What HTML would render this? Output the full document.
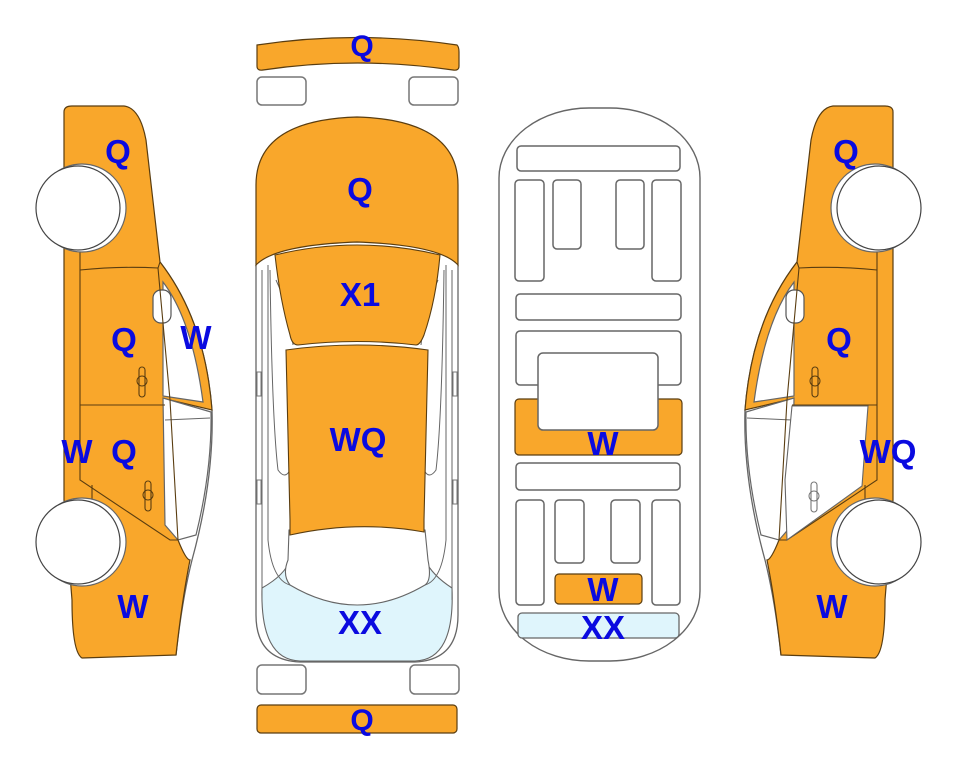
<!DOCTYPE html>
<html><head><meta charset="utf-8"><style>
html,body{margin:0;padding:0;background:#fff;}
svg{display:block;}
text{font-family:"Liberation Sans",Arial,sans-serif;font-weight:bold;fill:#0a0ae0;text-anchor:middle;}
</style></head><body>
<svg width="963" height="768" viewBox="0 0 963 768" xmlns="http://www.w3.org/2000/svg">
<defs>
<g id="side">
  <path d="M160,262 Q205,320 212,410 Q214,480 192,560 Q182,600 176,655" fill="none" stroke="#666" stroke-width="1.3"/>
  <path d="M64,112 Q64,106 72,106 L124,106 Q140,108 146,140 L160,262 Q205,320 212,410 L170,400 L178,540 Q186,560 190,560 Q182,600 176,655 L82,658 Q72,652 72,600 L64,500 Z" fill="#f9a72b" stroke="#5a3d10" stroke-width="1.2"/>
  <path d="M163,282 Q192,320 203,402 L163,396 Z" fill="#fff" stroke="#666" stroke-width="1.2"/>
  <path d="M163,398 L211,412 Q212,470 196,535 L178,540 L165,525 Z" fill="#fff" stroke="#666" stroke-width="1.2"/>
  <path d="M165,420 L210,418" stroke="#666" stroke-width="1" fill="none"/>
  <rect x="153" y="290" width="18" height="33" rx="8" fill="#fff" stroke="#555" stroke-width="1.2"/>
  <path d="M80,270 Q120,266 158,268 L160,262" fill="none" stroke="#5a3d10" stroke-width="1.1"/>
  <path d="M158,268 L170,400 L178,540" fill="none" stroke="#5a3d10" stroke-width="1.1"/>
  <path d="M80,405 L165,405" fill="none" stroke="#5a3d10" stroke-width="1.1"/>
  <path d="M80,250 L80,480 L170,540 L178,540" fill="none" stroke="#5a3d10" stroke-width="1.1"/>
  <path d="M92,485 L92,505" fill="none" stroke="#5a3d10" stroke-width="1.1"/>
  <rect x="139" y="367" width="6" height="30" rx="3" fill="none" stroke="#5a3d10" stroke-width="1.1"/>
  <circle cx="142" cy="381" r="5" fill="none" stroke="#5a3d10" stroke-width="1"/>
  <rect x="145" y="481" width="6" height="30" rx="3" fill="none" stroke="#5a3d10" stroke-width="1.1"/>
  <circle cx="148" cy="495" r="5" fill="none" stroke="#5a3d10" stroke-width="1"/>
  <circle cx="82" cy="208" r="44" fill="#fff" stroke="#666" stroke-width="1.2"/>
  <circle cx="78" cy="208" r="42" fill="#fff" stroke="#444" stroke-width="1.2"/>
  <circle cx="82" cy="542" r="44" fill="#fff" stroke="#666" stroke-width="1.2"/>
  <circle cx="78" cy="542" r="42" fill="#fff" stroke="#444" stroke-width="1.2"/>
</g>
</defs>

<use href="#side"/>
<text x="118" y="163" font-size="33">Q</text>
<text x="124" y="351" font-size="33">Q</text>
<text x="196" y="349" font-size="33">W</text>
<text x="77" y="463" font-size="33">W</text>
<text x="124" y="463" font-size="33">Q</text>
<text x="133" y="618" font-size="33">W</text>

<g transform="translate(957,0) scale(-1,1)">
  <use href="#side"/>
  <path d="M89,406 L165,406 L172,480 L170,540 L95,486 Z" fill="#fff" stroke="#666" stroke-width="1.1"/>
  <rect x="140" y="482" width="6" height="30" rx="3" fill="#fff" stroke="#777" stroke-width="1.1"/>
  <circle cx="143" cy="496" r="5" fill="none" stroke="#777" stroke-width="1"/>
</g>
<text x="846" y="163" font-size="33">Q</text>
<text x="839" y="351" font-size="33">Q</text>
<text x="888" y="463" font-size="33">WQ</text>
<text x="832" y="618" font-size="33">W</text>

<path d="M257,45 Q357,30 457,45 Q459,47 459,52 L459,66 Q459,71 453,70 Q357,56 263,70 Q257,71 257,66 L257,52 Q257,47 257,45 Z" fill="#f9a72b" stroke="#5a3d10" stroke-width="1.2"/>
<text x="362" y="56" font-size="30">Q</text>
<rect x="257" y="77" width="49" height="28" rx="5" fill="#fff" stroke="#777" stroke-width="1.5"/>
<rect x="409" y="77" width="49" height="28" rx="5" fill="#fff" stroke="#777" stroke-width="1.5"/>

<path d="M256,265 L256,615 Q256,660 300,662 L415,662 Q458,660 458,615 L458,265" fill="#fff" stroke="#666" stroke-width="1.3"/>
<path d="M262,588 Q285,575 290,560 Q357,625 425,560 Q432,575 452,588 Q455,660 415,661 L300,661 Q260,660 262,588 Z" fill="#dff5fc" stroke="#666" stroke-width="1.1"/>
<path d="M262,270 L262,600" fill="none" stroke="#666" stroke-width="1"/>
<path d="M452,270 L452,600" fill="none" stroke="#666" stroke-width="1"/>
<path d="M268,265 Q268,400 268,540 Q272,580 290,585" fill="none" stroke="#666" stroke-width="1"/>
<path d="M446,265 Q446,400 446,540 Q442,580 425,585" fill="none" stroke="#666" stroke-width="1"/>
<path d="M270,270 Q272,420 278,470 Q285,480 290,470" fill="none" stroke="#666" stroke-width="1"/>
<path d="M444,270 Q442,420 436,470 Q429,480 424,470" fill="none" stroke="#666" stroke-width="1"/>
<path d="M276,280 Q290,310 293,345" fill="none" stroke="#666" stroke-width="1"/>
<path d="M438,280 Q424,310 421,345" fill="none" stroke="#666" stroke-width="1"/>
<rect x="257" y="372" width="4" height="24" fill="#fff" stroke="#777" stroke-width="1"/>
<rect x="453" y="372" width="4" height="24" fill="#fff" stroke="#777" stroke-width="1"/>
<rect x="257" y="480" width="4" height="24" fill="#fff" stroke="#777" stroke-width="1"/>
<rect x="453" y="480" width="4" height="24" fill="#fff" stroke="#777" stroke-width="1"/>
<path d="M289,530 Q357,520 425,530 L428,560 Q432,580 425,585 Q357,625 290,585 Q282,575 288,560 Z" fill="#fff" stroke="#666" stroke-width="1.1"/>
<path d="M256,265 L256,185 Q256,120 357,117 Q458,120 458,185 L458,265 Q440,245 357,242 Q275,245 256,265 Z" fill="#f9a72b" stroke="#5a3d10" stroke-width="1.2"/>
<path d="M275,255 Q357,235 440,255 Q436,300 424,335 Q420,345 416,345 Q357,338 298,345 Q292,345 290,335 Q280,300 275,255 Z" fill="#f9a72b" stroke="#5a3d10" stroke-width="1.1"/>
<path d="M286,350 Q357,340 428,350 L424,520 L424,532 Q357,520 290,535 L290,520 Z" fill="#f9a72b" stroke="#5a3d10" stroke-width="1.1"/>
<text x="360" y="201" font-size="33">Q</text>
<text x="360" y="306" font-size="33">X1</text>
<text x="358" y="451" font-size="33">WQ</text>
<text x="360" y="634" font-size="33">XX</text>

<rect x="257" y="665" width="49" height="29" rx="5" fill="#fff" stroke="#777" stroke-width="1.5"/>
<rect x="410" y="665" width="49" height="29" rx="5" fill="#fff" stroke="#777" stroke-width="1.5"/>
<rect x="257" y="705" width="200" height="28" rx="4" fill="#f9a72b" stroke="#5a3d10" stroke-width="1.2"/>
<text x="362" y="730" font-size="30">Q</text>

<rect x="499" y="108" width="201" height="553" rx="90" ry="70" fill="#fff" stroke="#666" stroke-width="1.4"/>
<g fill="#fff" stroke="#666" stroke-width="1.5">
<rect x="517" y="146" width="163" height="25" rx="4"/>
<rect x="515" y="180" width="29" height="101" rx="4"/>
<rect x="553" y="180" width="28" height="69" rx="4"/>
<rect x="616" y="180" width="28" height="69" rx="4"/>
<rect x="652" y="180" width="29" height="101" rx="4"/>
<rect x="516" y="294" width="165" height="26" rx="4"/>
<rect x="516" y="331" width="165" height="54" rx="4"/>
<rect x="516" y="463" width="164" height="27" rx="4"/>
<rect x="516" y="500" width="28" height="105" rx="4"/>
<rect x="555" y="500" width="29" height="63" rx="4"/>
<rect x="611" y="500" width="29" height="63" rx="4"/>
<rect x="652" y="500" width="28" height="105" rx="4"/>
</g>
<rect x="515" y="399" width="167" height="56" rx="4" fill="#f9a72b" stroke="#5a3d10" stroke-width="1.2"/>
<rect x="538" y="353" width="120" height="77" rx="5" fill="#fff" stroke="#666" stroke-width="1.5"/>
<rect x="555" y="574" width="87" height="30" rx="4" fill="#f9a72b" stroke="#5a3d10" stroke-width="1.2"/>
<rect x="518" y="613" width="161" height="25" rx="4" fill="#dff5fc" stroke="#666" stroke-width="1.3"/>
<text x="603" y="455" font-size="33">W</text>
<text x="603" y="601" font-size="33">W</text>
<text x="603" y="639" font-size="33">XX</text>
</svg>
</body></html>
